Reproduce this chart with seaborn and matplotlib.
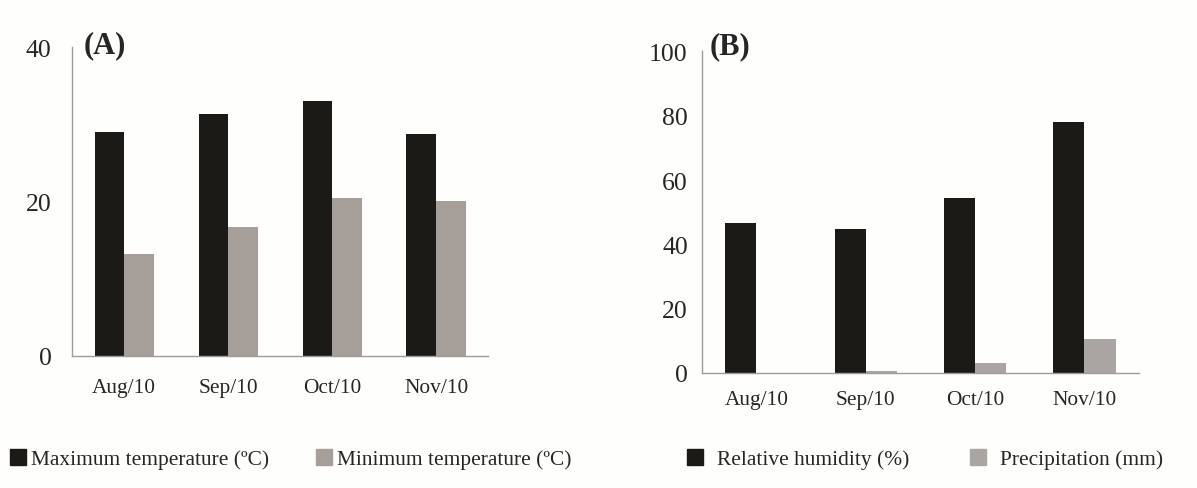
import matplotlib
matplotlib.use('Agg')
import matplotlib.pyplot as plt
from matplotlib.lines import Line2D
import pandas as pd
import seaborn as sns

months = ['Aug/10', 'Sep/10', 'Oct/10', 'Nov/10']

# panel A
max_temp = [29.0, 31.3, 33.0, 28.7]
min_temp = [13.2, 16.7, 20.4, 20.0]
temp_labels = ['Maximum temperature (ºC)', 'Minimum temperature (ºC)']

# panel B
humidity = [46.6, 44.8, 54.5, 78.0]
precip = [0.0, 0.7, 3.2, 10.6]
clim_labels = ['Relative humidity (%)', 'Precipitation (mm)']

BLACK = '#1c1a17'
GRAY_A = '#a69e98'
GRAY_B = '#a9a5a3'
AXIS = '#9c9c9c'

sns.set_style('white')
plt.rcParams['font.family'] = ['Liberation Serif', 'DejaVu Serif']


def long_df(a, b, names):
    return pd.DataFrame({
        'month': months * 2,
        'value': a + b,
        'series': [names[0]] * len(months) + [names[1]] * len(months),
    })


def style_axis(ax, yticks, ypad, xpad):
    sns.despine(ax=ax)
    for s in ['left', 'bottom']:
        ax.spines[s].set_color(AXIS)
        ax.spines[s].set_linewidth(1.0)
    ax.set_xlim(-0.5, len(months) - 0.5)
    ax.set_ylim(yticks[0], yticks[-1])
    ax.set_yticks(yticks)
    ax.set_xticks(range(len(months)))
    ax.set_xticklabels(months)
    ax.set_xticks([i - 0.5 for i in range(len(months) + 1)], minor=True)
    ax.tick_params(axis='x', which='major', length=0, pad=xpad, labelsize=15.4)
    ax.tick_params(axis='x', which='minor', length=6, width=1, color=AXIS, direction='out')
    ax.tick_params(axis='y', length=5, width=1, color=AXIS, direction='out', pad=ypad, labelsize=18.5)
    ax.set_xlabel('')
    ax.set_ylabel('')
    ax.set_facecolor('#fefefc')


fig = plt.figure(figsize=(11.97, 4.89), dpi=100)
fig.patch.set_facecolor('#fefefc')

ax1 = fig.add_axes([0.0604, 0.2706, 0.3473, 0.6312])
ax2 = fig.add_axes([0.5862, 0.2352, 0.3654, 0.6576])

sns.barplot(data=long_df(max_temp, min_temp, temp_labels), x='month', y='value',
            hue='series', palette=[BLACK, GRAY_A], width=0.57, gap=0,
            saturation=1, legend=False, linewidth=0, ax=ax1)
sns.barplot(data=long_df(humidity, precip, clim_labels), x='month', y='value',
            hue='series', palette=[BLACK, GRAY_B], width=0.57, gap=0,
            saturation=1, legend=False, linewidth=0, ax=ax2)

style_axis(ax1, [0, 20, 40], ypad=10, xpad=16)
style_axis(ax2, [0, 20, 40, 60, 80, 100], ypad=5, xpad=12)

ax1.text(84 / 1197, 1 - 46 / 489, '(A)', transform=fig.transFigure, fontsize=22,
         fontweight='bold', va='center', ha='left')
ax2.text(710 / 1197, 1 - 47 / 489, '(B)', transform=fig.transFigure, fontsize=22,
         fontweight='bold', va='center', ha='left')


def add_legend(ax, names, colors, x, pad, spacing):
    handles = [Line2D([0], [0], marker='s', linestyle='', markersize=11,
                      markerfacecolor=c, markeredgecolor=c, label=n)
               for n, c in zip(names, colors)]
    leg = ax.legend(handles=handles, loc='center left', ncol=2,
                    bbox_to_anchor=(x, 1 - 460 / 489), bbox_transform=fig.transFigure,
                    frameon=False, fontsize=15.4, handlelength=0.8,
                    handletextpad=pad, columnspacing=spacing,
                    borderpad=0, borderaxespad=0)
    return leg


add_legend(ax1, temp_labels, [BLACK, GRAY_A], 9 / 1197, 0.23, 2.15)
add_legend(ax2, clim_labels, [BLACK, GRAY_B], 686 / 1197, 0.65, 2.8)

fig.savefig('out.png', dpi=100, facecolor=fig.get_facecolor())
